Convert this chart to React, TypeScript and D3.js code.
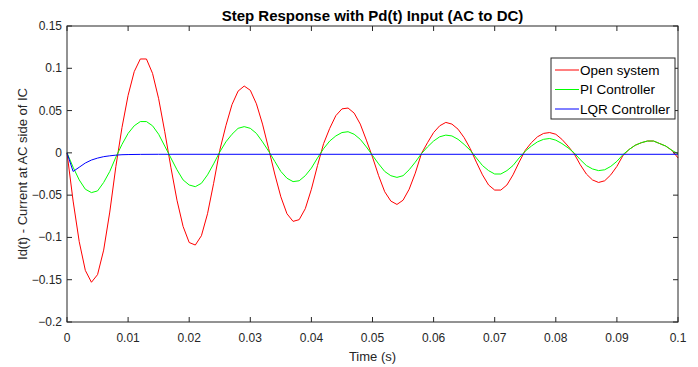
import { useEffect, useRef } from 'react';
import * as d3 from 'd3';

// sample grid for the two oscillating responses (1 ms steps)
const timeGrid = d3.range(0, 101).map(i => i / 1000);

const openSystem = [
  0, -0.057, -0.105, -0.139, -0.153, -0.144, -0.115, -0.070, -0.016, 0.030,
  0.068, 0.096, 0.111, 0.111, 0.094, 0.064, 0.025, -0.017, -0.056, -0.087,
  -0.106, -0.109, -0.098, -0.072, -0.036, 0.003, 0.032, 0.057, 0.073, 0.079,
  0.074, 0.058, 0.034, 0.005, -0.025, -0.052, -0.072, -0.081, -0.079, -0.066,
  -0.043, -0.015, 0.011, 0.029, 0.044, 0.052, 0.053, 0.047, 0.034, 0.015,
  -0.005, -0.027, -0.046, -0.057, -0.061, -0.056, -0.043, -0.024, -0.001, 0.012,
  0.024, 0.032, 0.036, 0.034, 0.028, 0.018, 0.005, -0.011, -0.026, -0.038,
  -0.044, -0.044, -0.038, -0.026, -0.011, 0.003, 0.012, 0.019, 0.023, 0.024,
  0.022, 0.016, 0.008, -0.001, -0.014, -0.025, -0.032, -0.035, -0.033, -0.026,
  -0.016, -0.003, 0.004, 0.009, 0.012, 0.014, 0.014, 0.011, 0.008, 0.003,
  -0.006,
];

const piController = [
  0, -0.017, -0.032, -0.043, -0.047, -0.045, -0.035, -0.022, -0.005, 0.010,
  0.023, 0.032, 0.037, 0.037, 0.032, 0.022, 0.008, -0.006, -0.020, -0.032,
  -0.038, -0.040, -0.036, -0.026, -0.013, 0.001, 0.013, 0.022, 0.029, 0.031,
  0.029, 0.023, 0.013, 0.002, -0.010, -0.022, -0.030, -0.034, -0.033, -0.027,
  -0.018, -0.006, 0.005, 0.014, 0.020, 0.024, 0.025, 0.022, 0.016, 0.007,
  -0.003, -0.013, -0.022, -0.027, -0.029, -0.027, -0.020, -0.011, -0.001, 0.007,
  0.014, 0.019, 0.021, 0.020, 0.016, 0.010, 0.003, -0.006, -0.015, -0.021,
  -0.025, -0.025, -0.021, -0.015, -0.006, 0.002, 0.008, 0.013, 0.016, 0.017,
  0.015, 0.011, 0.006, 0.000, -0.008, -0.015, -0.019, -0.021, -0.020, -0.016,
  -0.010, -0.002, 0.004, 0.009, 0.012, 0.014, 0.014, 0.011, 0.008, 0.003,
  -0.001,
];

const lqrTime = [0, 0.001, 0.002, 0.003, 0.004, 0.005, 0.006, 0.007, 0.008, 0.009, 0.010, 0.012, 0.015, 0.1];
const lqrController = [0, -0.022, -0.017, -0.012, -0.0085, -0.0062, -0.0045, -0.0035, -0.0027, -0.0022, -0.002, -0.0018, -0.0017, -0.0017];

const xTicks = [0, 0.01, 0.02, 0.03, 0.04, 0.05, 0.06, 0.07, 0.08, 0.09, 0.1];
const yTicks = [-0.2, -0.15, -0.1, -0.05, 0, 0.05, 0.1, 0.15];

const seriesNames = ['Open system', 'PI Controller', 'LQR Controller'];
const seriesColors = ['#ff0000', '#00ff00', '#0000ff'];

const FONT = '"Liberation Sans", Arial, Helvetica, sans-serif';

const App = () => {
  const svgRef = useRef<SVGSVGElement>(null);

  useEffect(() => {
    const width = 698;
    const height = 367;
    const margin = { top: 26, right: 20, bottom: 45, left: 67 };

    const svg = d3.select(svgRef.current);
    svg.selectAll('*').remove();
    svg.attr('width', width).attr('height', height);

    svg.append('rect').attr('width', width).attr('height', height).attr('fill', '#ffffff');

    const x = d3.scaleLinear().domain([0, 0.1]).range([margin.left, width - margin.right]);
    const y = d3.scaleLinear().domain([-0.2, 0.15]).range([height - margin.bottom, margin.top]);

    const axisColor = '#262626';
    const tickLen = 5;

    // lines
    const line = d3.line<[number, number]>()
      .x(d => x(d[0]))
      .y(d => y(d[1]));

    const allSeries: [number, number][][] = [
      timeGrid.map((t, i) => [t, openSystem[i]]),
      timeGrid.map((t, i) => [t, piController[i]]),
      lqrTime.map((t, i) => [t, lqrController[i]]),
    ];

    const plot = svg.append('g');
    allSeries.forEach((s, i) => {
      plot.append('path')
        .datum(s)
        .attr('d', line)
        .attr('fill', 'none')
        .attr('stroke', seriesColors[i])
        .attr('stroke-width', 1);
    });

    // box + inward ticks
    const x0 = x.range()[0];
    const x1 = x.range()[1];
    const yTop = y.range()[1];
    const yBot = y.range()[0];

    svg.append('rect')
      .attr('x', x0).attr('y', yTop)
      .attr('width', x1 - x0).attr('height', yBot - yTop)
      .attr('fill', 'none').attr('stroke', axisColor).attr('stroke-width', 1);

    const ticks = svg.append('g').attr('stroke', axisColor).attr('stroke-width', 1);
    xTicks.forEach(t => {
      ticks.append('line').attr('x1', x(t)).attr('x2', x(t)).attr('y1', yBot).attr('y2', yBot - tickLen);
      ticks.append('line').attr('x1', x(t)).attr('x2', x(t)).attr('y1', yTop).attr('y2', yTop + tickLen);
    });
    yTicks.forEach(t => {
      ticks.append('line').attr('x1', x0).attr('x2', x0 + tickLen).attr('y1', y(t)).attr('y2', y(t));
      ticks.append('line').attr('x1', x1).attr('x2', x1 - tickLen).attr('y1', y(t)).attr('y2', y(t));
    });

    // tick labels
    svg.append('g').selectAll('text')
      .data(xTicks)
      .enter()
      .append('text')
      .attr('x', d => x(d))
      .attr('y', yBot + 19.5)
      .attr('text-anchor', 'middle')
      .style('font-family', FONT)
      .style('font-size', '12px')
      .style('fill', axisColor)
      .text(d => d3.format('~g')(d));

    svg.append('g').selectAll('text')
      .data(yTicks)
      .enter()
      .append('text')
      .attr('x', x0 - 5)
      .attr('y', d => y(d) + 4)
      .attr('text-anchor', 'end')
      .style('font-family', FONT)
      .style('font-size', '12px')
      .style('fill', axisColor)
      .text(d => d3.format('~g')(d));

    // title + axis labels
    svg.append('text')
      .attr('x', (x0 + x1) / 2)
      .attr('y', 21)
      .attr('text-anchor', 'middle')
      .style('font-family', FONT)
      .style('font-size', '15px')
      .style('font-weight', 'bold')
      .style('fill', '#000')
      .text('Step Response with Pd(t) Input (AC to DC)');

    svg.append('text')
      .attr('x', (x0 + x1) / 2)
      .attr('y', yBot + 39)
      .attr('text-anchor', 'middle')
      .style('font-family', FONT)
      .style('font-size', '13px')
      .style('fill', axisColor)
      .text('Time (s)');

    svg.append('text')
      .attr('transform', `translate(27,${(yTop + yBot) / 2}) rotate(-90)`)
      .attr('text-anchor', 'middle')
      .style('font-family', FONT)
      .style('font-size', '13px')
      .style('fill', axisColor)
      .text('Id(t) - Current at AC side of IC');

    // legend
    const legend = svg.append('g').attr('transform', 'translate(551,58)');
    legend.append('rect')
      .attr('width', 124).attr('height', 61)
      .attr('fill', '#ffffff').attr('stroke', axisColor).attr('stroke-width', 1);

    seriesNames.forEach((name, i) => {
      const ly = 12 + i * 19.5;
      legend.append('line')
        .attr('x1', 4).attr('x2', 28)
        .attr('y1', ly).attr('y2', ly)
        .attr('stroke', seriesColors[i]).attr('stroke-width', 1);
      legend.append('text')
        .attr('x', 29)
        .attr('y', ly + 4.5)
        .style('font-family', FONT)
        .style('font-size', '13.5px')
        .style('fill', '#000')
        .text(name);
    });
  }, []);

  return <svg ref={svgRef} style={{ display: 'block', position: 'absolute', left: 0, top: 0 }} />;
};

export default App;
